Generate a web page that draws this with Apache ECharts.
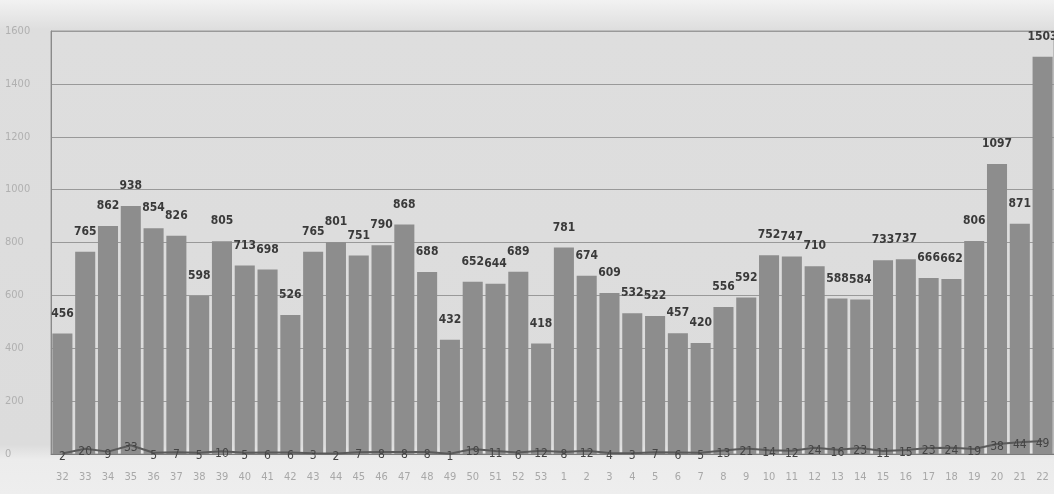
<!DOCTYPE html>
<html>
<head>
<meta charset="utf-8">
<script src="https://cdn.jsdelivr.net/npm/echarts@6/dist/echarts.min.js"></script>
<style>
html,body{margin:0;padding:0;background:#e6e6e6;}
#c{width:1054px;height:494px;}
</style>
</head>
<body>
<div id="c"></div>
<script>
const weeks = ['32','33','34','35','36','37','38','39','40','41','42','43','44','45','46','47','48','49','50','51','52','53','1','2','3','4','5','6','7','8','9','10','11','12','13','14','15','16','17','18','19','20','21','22'];
const totals = [456,765,862,938,854,826,598,805,713,698,526,765,801,751,790,868,688,432,652,644,689,418,781,674,609,532,522,457,420,556,592,752,747,710,588,584,733,737,666,662,806,1097,871,1503];
const smalls = [2,20,9,33,5,7,5,10,5,6,6,3,2,7,8,8,8,1,19,11,6,12,8,12,4,3,7,6,5,13,21,14,12,24,16,23,11,15,23,24,19,38,44,49];
const yTicks = [0,200,400,600,800,1000,1200,1400,1600];

const font = "'Liberation Sans Narrow','DejaVu Sans Condensed','DejaVu Sans',sans-serif";
const chart = echarts.init(document.getElementById('c'));
chart.setOption({
  backgroundColor: {
    type: 'linear', x: 0, y: 0, x2: 0, y2: 1,
    colorStops: [{offset: 0, color: '#f2f2f2'}, {offset: 0.06, color: '#dedede'}, {offset: 0.9, color: '#dcdcdc'}, {offset: 0.93, color: '#ececec'}, {offset: 1, color: '#eeeeee'}]
  },
  animation: false,
  grid: {left: 51, right: 0, top: 31, bottom: 40, show: true, borderColor: '#9a9a9a', borderWidth: 1, backgroundColor: 'transparent'},
  xAxis: {
    type: 'category', data: weeks,
    axisTick: {show: false},
    axisLine: {show: true, lineStyle: {color: '#7a7a7a', width: 1}},
    axisLabel: {color: '#a8a8a8', fontSize: 11, fontFamily: font, margin: 18, interval: 0}
  },
  yAxis: {
    type: 'value', min: 0, max: 1600, interval: 200,
    axisLine: {show: true, lineStyle: {color: '#8a8a8a'}},
    axisTick: {show: false},
    splitLine: {lineStyle: {color: '#999999', width: 1.2}},
    axisLabel: {color: '#b0b0b0', fontSize: 11, fontFamily: font, align: 'left', margin: 46,
      formatter: v => yTicks.includes(v) ? String(v) : ''}
  },
  series: [
    {
      type: 'bar', data: totals, barCategoryGap: '12%',
      itemStyle: {color: '#8d8d8d'},
      label: {show: true, position: 'top', distance: 14, color: '#3a3a3a', fontSize: 12, fontFamily: font, fontWeight: 'bold'},
      z: 2
    },
    {
      type: 'line', data: smalls, symbol: 'circle', symbolSize: 2, showSymbol: true,
      itemStyle: {color: 'rgba(90,90,90,0)', borderWidth: 0},
      lineStyle: {color: '#5a5a5a', width: 2},
      label: {show: true, position: 'bottom', distance: -4, color: '#444444', fontSize: 12, fontFamily: font},
      labelLayout: {hideOverlap: false},
      z: 3
    }
  ]
});
</script>
</body>
</html>
